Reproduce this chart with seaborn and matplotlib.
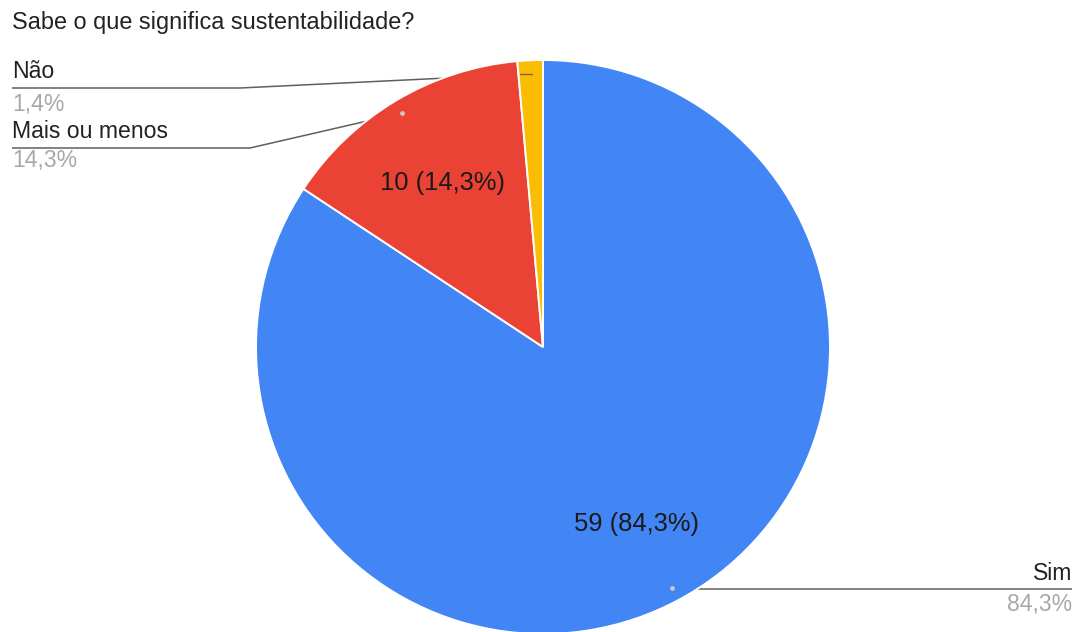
import matplotlib
matplotlib.use("Agg")
import matplotlib.pyplot as plt
import seaborn as sns

# Survey answers
categories = ["Sim", "Mais ou menos", "Não"]
counts = [59, 10, 1]
title = "Sabe o que significa sustentabilidade?"

sns.set_theme(style="white")
plt.rcParams["font.family"] = ["Liberation Sans", "DejaVu Sans"]

palette = sns.color_palette(["#4285F4", "#EA4335", "#FBBC04"])

W, H = 1078, 632
fig = plt.figure(figsize=(W / 100, H / 100), dpi=100)
ax = fig.add_axes([0, 0, 1, 1])


def Y(py):
    return H - py


def px(size):
    return size * 0.72


total = sum(counts)
pcts = [c / total * 100 for c in counts]


def fmt_pct(p):
    return f"{p:.1f}%".replace(".", ",")


cx, cy, r = 543, 347, 287

# Leader lines sit under the pie
line_kw = dict(color="#5f5f5f", lw=1.1, zorder=1, solid_capstyle="butt")
ax.plot([12, 240, 530], [Y(88), Y(88), Y(74)], **line_kw)
ax.plot([12, 250, 402], [Y(148), Y(148), Y(113)], **line_kw)
ax.plot([672, 1072], [Y(589), Y(589)], **line_kw)

ax.pie(
    counts,
    colors=palette,
    startangle=90,
    counterclock=False,
    center=(cx, Y(cy)),
    radius=r,
    wedgeprops=dict(edgecolor="white", linewidth=1.4, zorder=2),
)
ax.set_xlim(0, W)
ax.set_ylim(0, H)
ax.set_aspect("equal")
ax.axis("off")

# Anchor marks at the end of each leader
ax.plot([520, 532], [Y(74), Y(74)], color="#7a6a3a", lw=1.0, zorder=3)
ax.scatter([402, 672], [Y(113), Y(588)], s=12, color="#c9c9c9", zorder=3, linewidths=0)

# Title
ax.text(12, Y(22), title, fontsize=px(23.5), color="#222222", ha="left", va="center")

# Outer labels: name above the line, share below it
name_color = "#222222"
pct_color = "#a8a8a8"
outer = [
    (0, 1072, 573, 604, "right"),
    (1, 12, 131, 161, "left"),
    (2, 12, 72, 105, "left"),
]
for i, x, yn, yp, ha in outer:
    ax.text(x, Y(yn), categories[i], fontsize=px(23), color=name_color, ha=ha, va="center")
    ax.text(x, Y(yp), fmt_pct(pcts[i]), fontsize=px(23), color=pct_color, ha=ha, va="center")

# Slice value labels
inner = [(0, 637, 524), (1, 442, 183)]
for i, x, y in inner:
    ax.text(x, Y(y), f"{counts[i]} ({fmt_pct(pcts[i])})", fontsize=px(25.5),
            color="#1a1a1a", ha="center", va="center", zorder=4)

fig.savefig("out.png", dpi=100, facecolor="white")
